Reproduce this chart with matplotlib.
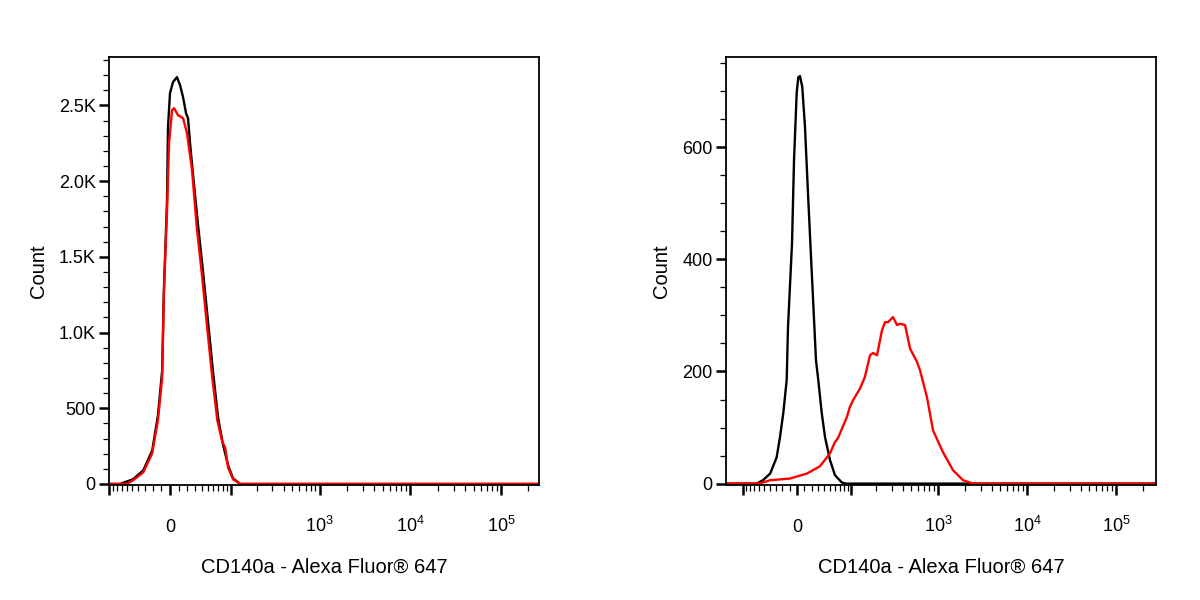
import matplotlib
matplotlib.use("Agg")
import matplotlib.pyplot as plt
from matplotlib.ticker import FixedLocator, NullFormatter
import numpy as np

plt.rcParams['font.family'] = ['Liberation Sans', 'DejaVu Sans']
plt.rcParams['mathtext.fontset'] = 'custom'
plt.rcParams['mathtext.rm'] = 'Liberation Sans'
plt.rcParams['mathtext.it'] = 'Liberation Sans:italic'

# left panel: isotype / sample histograms (channel value, count)
left_black_x = [-101, -74, -49, -33, -21, -14, -9, -7, -3.4, -2.3, 0, 3.4, 8.0, 11.6, 15.2, 18.8,
                21.3, 23.9, 27.9, 34.8, 42.4, 50.6, 59.6, 69.8, 80.9, 93.3, 107, 130, 300, 262144]
left_black_y = [0, 0, 30, 89, 221, 453, 750, 1279, 1874, 2356, 2581, 2654, 2687, 2634, 2554, 2449,
                2416, 2250, 2039, 1709, 1398, 1068, 737, 433, 254, 122, 36, 0, 0, 0]
left_red_x = [-101, -74, -60, -49, -33, -21, -14, -9, -7, -3.4, -1.1, 2.3, 4.6, 9.2, 15.2, 20,
              26.5, 33, 41, 49, 58, 68, 78, 86, 93, 107, 130, 300, 262144]
left_red_y = [0, 0, 0, 23, 76, 202, 420, 704, 1259, 1808, 2250, 2468, 2482, 2436, 2416, 2317,
              2072, 1695, 1365, 1034, 704, 420, 287, 235, 109, 30, 0, 0, 0]

# right panel
right_black_x = [-159, -108, -73, -64, -52, -39, -28.6, -23.6, -18.8, -14.0, -12.2, -6.7, -4.0,
                 -0.4, 1.75, 4.0, 7.1, 10.8, 15.0, 20.7, 26.6, 30.1, 35.6, 41.1, 50, 59.7,
                 74.8, 85, 300, 281000]
right_black_y = [0, 0, 0, 0.5, 6, 18, 47, 83, 126, 185, 279, 429, 577,
                 697, 725, 727, 708, 637, 518, 368, 220, 185, 126, 83, 42, 15,
                 2, 0, 0, 0]
right_red_x = [-159, -108, -58, -39, -9.5, 13.6, 32.8, 50, 59.7, 66, 87.5, 95.7, 105, 128, 146,
               168, 182, 203, 231, 251, 272, 309, 344, 372, 424, 483, 579, 626, 750, 877,
               1135, 1470, 1908, 2470, 281000]
right_red_y = [0, 0, 0.5, 6, 9, 18, 31, 54, 74, 81, 119, 137, 149, 170, 190,
               229, 233, 229, 273, 288, 288, 297, 283, 285, 283, 241, 217, 202, 154, 95,
               56, 24, 6, 0, 0]

x_major = [-100, 0, 100, 1e3, 1e4, 1e5]
x_major_labels = ['', '0', '', '$10^3$', '$10^4$', '$10^5$']
x_minor = ([-v for v in range(10, 100, 10)] + list(range(10, 100, 10))
           + [m * 10 ** e for e in (2, 3, 4) for m in range(2, 10)] + [2e5])

left_yticks = [0, 500, 1000, 1500, 2000, 2500]
left_ylabels = ['0', '500', '1.0K', '1.5K', '2.0K', '2.5K']
right_yticks = [0, 200, 400, 600]
right_ylabels = ['0', '200', '400', '600']

fig = plt.figure(figsize=(12, 6), dpi=100)
ax1 = fig.add_axes([109 / 1200, 1 - 485 / 600, 430 / 1200, 428 / 600])
ax2 = fig.add_axes([726 / 1200, 1 - 485 / 600, 430 / 1200, 428 / 600])

panels = [
    (ax1, 45, (-101, 262144), (-7, 2820), left_black_x, left_black_y, left_red_x, left_red_y,
     left_yticks, left_ylabels, np.arange(0, 2801, 100)),
    (ax2, 52, (-159, 281000), (-2.5, 761), right_black_x, right_black_y, right_red_x, right_red_y,
     right_yticks, right_ylabels, np.arange(0, 751, 50)),
]

for ax, lw, xlim, ylim, bx, by, rx, ry, yt, yl, ymin in panels:
    ax.set_xscale('asinh', linear_width=lw)
    ax.plot(bx, by, color='black', lw=1.7)
    ax.plot(rx, ry, color='#ff0000', lw=1.7)
    ax.set_xlim(*xlim)
    ax.set_ylim(*ylim)

    ax.xaxis.set_major_locator(FixedLocator(x_major))
    ax.set_xticklabels(x_major_labels)
    ax.xaxis.set_minor_locator(FixedLocator([v for v in x_minor if xlim[0] < v < xlim[1]]))
    ax.xaxis.set_minor_formatter(NullFormatter())
    ax.set_yticks(yt)
    ax.set_yticklabels(yl)
    ax.yaxis.set_minor_locator(FixedLocator(ymin))

    ax.tick_params(axis='both', which='major', direction='out', length=7.5, width=1.8,
                   labelsize=13, color='black')
    ax.tick_params(axis='both', which='minor', direction='out', length=4.3, width=0.9)
    ax.tick_params(axis='x', which='major', pad=26)
    ax.tick_params(axis='y', which='major', pad=2)
    for lab in ax.get_xticklabels():
        lab.set_verticalalignment('baseline')
    for sp in ax.spines.values():
        sp.set_linewidth(1.3)

    ax.set_xlabel('CD140a - Alexa Fluor® 647', fontsize=14.5, labelpad=16)
    ax.set_ylabel('Count', fontsize=14.5, labelpad=8)

fig.savefig('out.png', dpi=100)
